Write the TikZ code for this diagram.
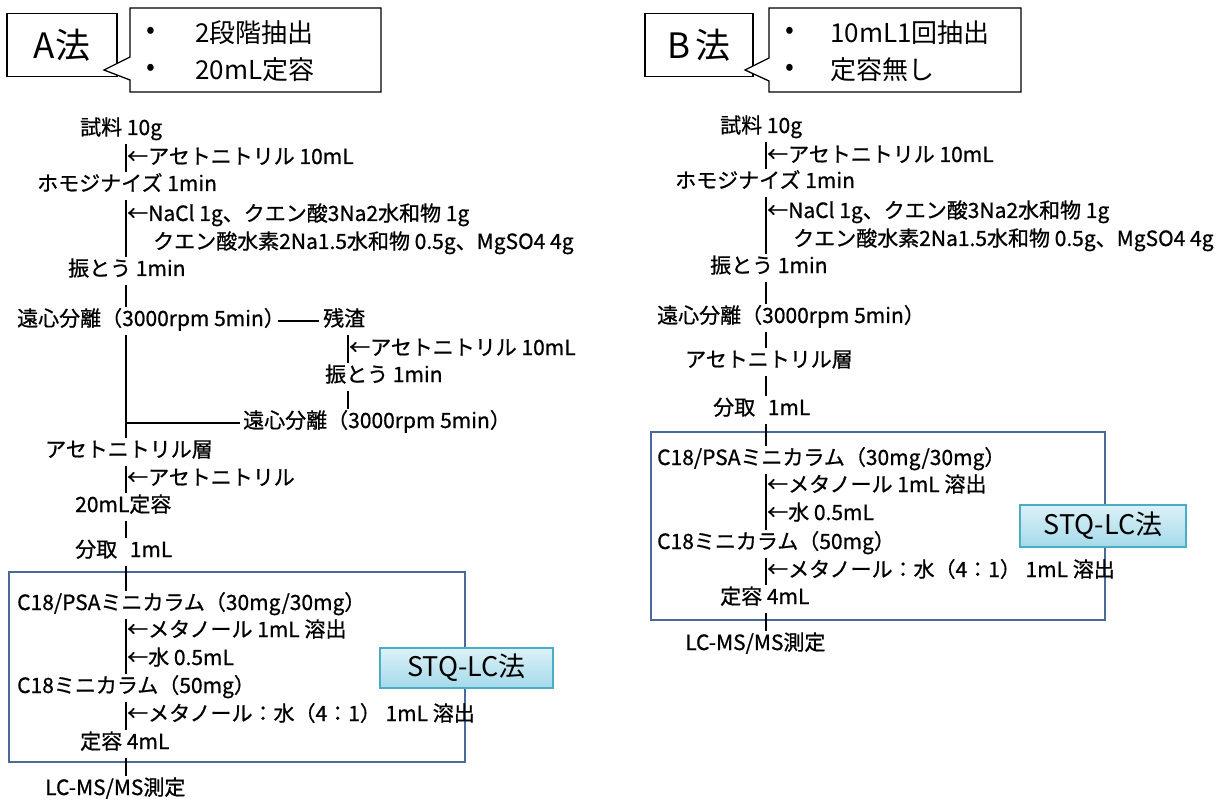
\documentclass[tikz,border=0pt]{standalone}
\usepackage{fontspec}
\setmainfont{Noto Sans CJK JP}
\newfontfamily\flowfont{Noto Sans CJK JP}[BoldFont={Noto Sans CJK JP}, BoldFeatures={FakeBold=0.8}]
\begin{document}
\begin{tikzpicture}[x=1pt,y=-1pt,
  flow/.style={anchor=west, inner sep=0pt, text height=14pt, text depth=4pt, font=\flowfont\bfseries\fontsize{21}{24}\selectfont},
  link/.style={line width=1.7pt, shorten <=5pt, shorten >=5pt},
  hlink/.style={line width=1.7pt, shorten <=-7pt, shorten >=4pt},
  stqbox/.style={draw=stqedge, line width=1.2pt, top color=stqtop, bottom color=stqbot, inner sep=0pt, font=\fontsize{27}{30}\selectfont},
  hdrbox/.style={draw, line width=1.3pt, fill=white, inner sep=0pt, font=\fontsize{35}{38}\selectfont},
  callout/.style={draw, line width=1.3pt, fill=white},
  bullet/.style={anchor=west, inner sep=0pt, font=\fontsize{26}{30}\selectfont},
  panel/.style={draw=panelblue, line width=1.3pt}
]
\definecolor{stqedge}{HTML}{4BACC6}
\definecolor{stqtop}{HTML}{DDF1F7}
\definecolor{stqbot}{HTML}{A4DAEA}
\definecolor{panelblue}{HTML}{4A6A9A}
\useasboundingbox (0,0) rectangle (1231,802);

% ---------- headers ----------
\node[hdrbox, minimum width=110pt, minimum height=63pt] (hA) at (62,45) {A法};
\draw[callout] (130,8) -- (381,8) -- (381,92) -- (130,92) -- (130,80) -- (104,70) -- (130,57) -- cycle;
\node[bullet] (cA1d) at (146,33) {•};
\node[bullet] (cA1) at (195,33) {2段階抽出};
\node[bullet] (cA2d) at (146,70) {•};
\node[bullet] (cA2) at (195,70) {20mL定容};

\node[hdrbox, minimum width=108pt, minimum height=63pt] (hB) at (699,45) {B\,法};
\draw[callout] (769,8) -- (1021,8) -- (1021,92) -- (769,92) -- (769,81) -- (745,70) -- (769,58) -- cycle;
\node[bullet] (cB1d) at (785,33) {•};
\node[bullet] (cB1) at (830,33) {10mL1回抽出};
\node[bullet] (cB2d) at (785,70) {•};
\node[bullet] (cB2) at (830,70) {定容無し};

% ---------- panels ----------
\draw[panel] (9,572) rectangle (465,762);
\draw[panel] (651,432) rectangle (1105,620);

% ---------- A flow ----------
\coordinate (spA) at (126,0);
\coordinate (spA2) at (348,0);
\node[flow] (a1) at (80,130) {試料 10g};
\node[flow] (a1l) at (127,159) {←アセトニトリル 10mL};
\node[flow] (a2) at (37,186) {ホモジナイズ 1min};
\node[flow] (a2l) at (127,216) {←NaCl 1g、クエン酸3Na2水和物 1g};
\node[flow] (a2m) at (153,244) {クエン酸水素2Na1.5水和物 0.5g、MgSO4 4g};
\node[flow] (a3) at (68,271) {振とう 1min};
\node[flow] (a4) at (17,321) {遠心分離（3000rpm 5min）};
\node[flow] (r1) at (323,321) {残渣};
\node[flow] (r1l) at (349,350) {←アセトニトリル 10mL};
\node[flow] (r2) at (325,377) {振とう 1min};
\node[flow] (r3) at (243,423) {遠心分離（3000rpm 5min）};
\node[flow] (a5) at (45,452) {アセトニトリル層};
\node[flow] (a5l) at (127,480) {←アセトニトリル};
\node[flow] (a6) at (75,507) {20mL定容};
\node[flow] (a7) at (75,552) {分取\hspace{0.6em}1mL};
\node[flow] (a8) at (17,605) {C18/PSAミニカラム（30mg/30mg）};
\node[flow] (a8l) at (127,632) {←メタノール 1mL 溶出};
\node[flow] (a8m) at (127,660) {←水 0.5mL};
\node[flow] (a9) at (17,688) {C18ミニカラム（50mg）};
\node[flow] (a9l) at (127,716) {←メタノール：水（4：1） 1mL 溶出};
\node[flow] (a10) at (80,744) {定容 4mL};
\node[flow] (a11) at (45,790) {LC-MS/MS測定};

\foreach \u/\v in {a1/a2,a2/a3,a3/a4,a4/a5,a5/a6,a6/a7,a7/a8,a8/a9,a9/a10,a10/a11}
  \draw[link] (spA |- \u.south) -- (spA |- \v.north);
\draw[hlink] (a4.east) -- (r1.west);
\draw[link] (spA2 |- r1.south) -- (spA2 |- r2.north);
\draw[link] (spA2 |- r2.south) -- (spA2 |- r3.north);
\draw[line width=1.7pt, shorten >=3pt] (spA |- r3.west) -- (r3.west);

\node[stqbox, minimum width=173pt, minimum height=40pt] (stqA) at (466.5,668) {STQ-LC法};

% ---------- B flow ----------
\coordinate (spB) at (766,0);
\node[flow] (b1) at (720,128) {試料 10g};
\node[flow] (b1l) at (767,157) {←アセトニトリル 10mL};
\node[flow] (b2) at (675,183) {ホモジナイズ 1min};
\node[flow] (b2l) at (767,213) {←NaCl 1g、クエン酸3Na2水和物 1g};
\node[flow] (b2m) at (793,241) {クエン酸水素2Na1.5水和物 0.5g、MgSO4 4g};
\node[flow] (b3) at (710,268) {振とう 1min};
\node[flow] (b4) at (657,318) {遠心分離（3000rpm 5min）};
\node[flow] (b5) at (685,362) {アセトニトリル層};
\node[flow] (b6) at (713,410) {分取\hspace{0.6em}1mL};
\node[flow] (b7) at (657,460) {C18/PSAミニカラム（30mg/30mg）};
\node[flow] (b7l) at (767,487) {←メタノール 1mL 溶出};
\node[flow] (b7m) at (767,515) {←水 0.5mL};
\node[flow] (b8) at (657,544) {C18ミニカラム（50mg）};
\node[flow] (b8l) at (767,572) {←メタノール：水（4：1） 1mL 溶出};
\node[flow] (b9) at (720,599) {定容 4mL};
\node[flow] (b10) at (685,645) {LC-MS/MS測定};

\foreach \u/\v in {b1/b2,b2/b3,b3/b4,b4/b5,b5/b6,b6/b7,b7/b8,b8/b9,b9/b10}
  \draw[link] (spB |- \u.south) -- (spB |- \v.north);

\node[stqbox, minimum width=166pt, minimum height=42pt] (stqB) at (1103,526) {STQ-LC法};
\end{tikzpicture}
\end{document}
